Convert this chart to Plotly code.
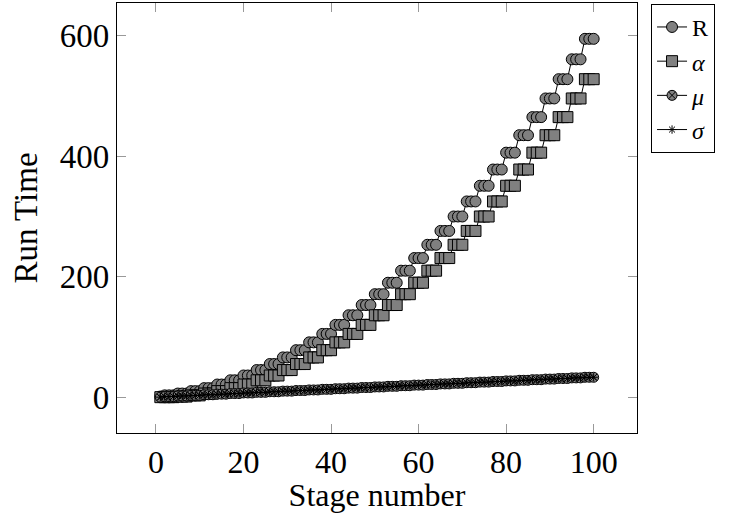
import plotly.graph_objects as go

stage = list(range(1, 101))

R = [1,
     3, 3, 3, 6, 6, 6, 10, 10, 10, 15, 15, 15, 21, 21, 21, 28, 28, 28,
     36, 36, 36, 45, 45, 45, 55, 55, 55, 66, 66, 66, 78, 78, 78, 91, 91, 91,
     105, 105, 105, 120, 120, 120, 136, 136, 136, 153, 153, 153, 171, 171, 171,
     190, 190, 190, 210, 210, 210, 231, 231, 231, 253, 253, 253, 276, 276, 276,
     300, 300, 300, 325, 325, 325, 351, 351, 351, 378, 378, 378, 406, 406, 406,
     435, 435, 435, 465, 465, 465, 496, 496, 496, 528, 528, 528, 561, 561, 561,
     595, 595, 595]

alpha = [0,
         0, 0, 0, 1, 1, 1, 3, 3, 3, 6, 6, 6, 10, 10, 10, 15, 15, 15,
         21, 21, 21, 28, 28, 28, 36, 36, 36, 45, 45, 45, 55, 55, 55, 66, 66, 66,
         78, 78, 78, 91, 91, 91, 105, 105, 105, 120, 120, 120, 136, 136, 136,
         153, 153, 153, 171, 171, 171, 190, 190, 190, 210, 210, 210, 231, 231, 231,
         253, 253, 253, 276, 276, 276, 300, 300, 300, 325, 325, 325, 351, 351, 351,
         378, 378, 378, 406, 406, 406, 435, 435, 435, 465, 465, 465, 496, 496, 496,
         528, 528, 528]

mu = [0,
      1, 1, 1, 2, 2, 2, 3, 3, 3, 4, 4, 4, 5, 5, 5, 6, 6, 6,
      7, 7, 7, 8, 8, 8, 9, 9, 9, 10, 10, 10, 11, 11, 11, 12, 12, 12,
      13, 13, 13, 14, 14, 14, 15, 15, 15, 16, 16, 16, 17, 17, 17,
      18, 18, 18, 19, 19, 19, 20, 20, 20, 21, 21, 21, 22, 22, 22,
      23, 23, 23, 24, 24, 24, 25, 25, 25, 26, 26, 26, 27, 27, 27,
      28, 28, 28, 29, 29, 29, 30, 30, 30, 31, 31, 31, 32, 32, 32,
      33, 33, 33]

sigma = [0,
         1, 1, 1, 2, 2, 2, 3, 3, 3, 4, 4, 4, 5, 5, 5, 6, 6, 6,
         7, 7, 7, 8, 8, 8, 9, 9, 9, 10, 10, 10, 11, 11, 11, 12, 12, 12,
         13, 13, 13, 14, 14, 14, 15, 15, 15, 16, 16, 16, 17, 17, 17,
         18, 18, 18, 19, 19, 19, 20, 20, 20, 21, 21, 21, 22, 22, 22,
         23, 23, 23, 24, 24, 24, 25, 25, 25, 26, 26, 26, 27, 27, 27,
         28, 28, 28, 29, 29, 29, 30, 30, 30, 31, 31, 31, 32, 32, 32,
         33, 33, 33]

x_ticks = [0, 20, 40, 60, 80, 100]
y_ticks = [0, 200, 400, 600]

FONT = "Liberation Serif"
GRAY = "#808080"
FS = 32

fig = go.Figure()

series = [
    ("R", R, "circle", 11, GRAY),
    ("<i>α</i>", alpha, "square", 11, GRAY),
    ("<i>μ</i>", mu, "circle-x", 10, GRAY),
    ("<i>σ</i>", sigma, "asterisk-open", 7, "black"),
]

for name, vals, sym, size, col in series:
    fig.add_trace(go.Scatter(
        x=stage, y=vals, name=name, mode="lines+markers",
        line=dict(color="black", width=1),
        marker=dict(symbol=sym, size=size, color=col,
                    line=dict(color="black", width=1)),
    ))

axis_common = dict(
    showline=True, linecolor="black", linewidth=1.3, mirror="ticks",
    ticks="inside", ticklen=9, tickcolor="#999999", tickwidth=1,
    showgrid=False, zeroline=False, automargin=False,
    tickfont=dict(family=FONT, size=FS, color="black"),
)

fig.update_xaxes(range=[-8.9, 109.9], tickvals=x_ticks,
                 title=dict(text="Stage number", standoff=8,
                            font=dict(family=FONT, size=FS, color="black")),
                 **axis_common)
fig.update_yaxes(range=[-59.5, 654.5], tickvals=y_ticks,
                 title=dict(text="Run Time", standoff=12,
                            font=dict(family=FONT, size=33, color="black")),
                 **axis_common)
fig.update_yaxes(tickfont=dict(size=33))

fig.update_layout(
    width=738, height=513,
    margin=dict(l=117, r=101, t=3, b=80, autoexpand=False),
    paper_bgcolor="white", plot_bgcolor="white",
    legend=dict(x=1.027, y=0.998, xanchor="left", yanchor="top",
                bordercolor="black", borderwidth=1,
                font=dict(family=FONT, size=24, color="black"),
                tracegroupgap=0, itemsizing="trace"),
    showlegend=True,
)

fig.write_html("out.html", config={"displayModeBar": False},
               post_script="document.body.style.margin='0';document.body.style.overflow='hidden';")
